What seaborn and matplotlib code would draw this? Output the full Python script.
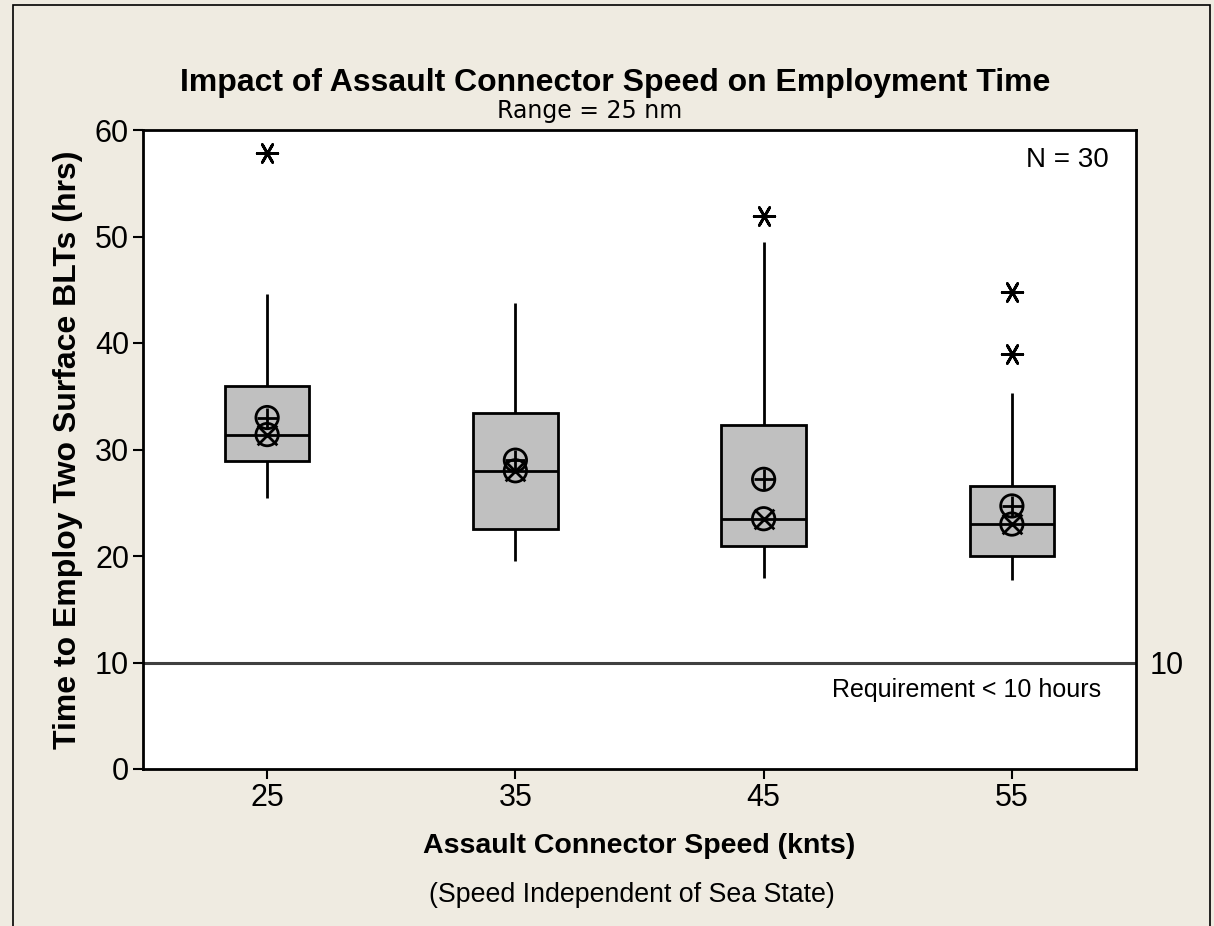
import numpy as np
import pandas as pd
import seaborn as sns
import matplotlib.pyplot as plt
from matplotlib.patches import Rectangle

# box statistics (hours)
speeds = [25, 35, 45, 55]
whisker_lo = [25.4, 19.5, 17.9, 17.7]
q1 = [28.9, 22.5, 20.9, 20.0]
median = [31.4, 28.0, 23.5, 23.0]
q3 = [36.0, 33.4, 32.3, 26.6]
whisker_hi = [44.6, 43.8, 49.5, 35.3]
mean = [33.0, 29.0, 27.2, 24.7]
outlier_speed = [25, 45, 55, 55]
outlier_hours = [57.8, 51.9, 44.8, 39.0]
requirement = 10

bg = '#EFEBE1'

sns.set_theme(style='white')
plt.rcParams['font.family'] = ['Liberation Sans', 'DejaVu Sans']
plt.rcParams['text.color'] = 'black'
plt.rcParams['axes.labelcolor'] = 'black'
plt.rcParams['xtick.color'] = 'black'
plt.rcParams['ytick.color'] = 'black'

# five points per speed -> quartiles and whisker ends come out exactly
rows = []
for i, s in enumerate(speeds):
    for v in [whisker_lo[i], q1[i], median[i], q3[i], whisker_hi[i]]:
        rows.append({'speed': s, 'hours': v})
df = pd.DataFrame(rows)
stats = pd.DataFrame({'speed': speeds, 'mean': mean, 'median': median})
outs = pd.DataFrame({'speed': outlier_speed, 'hours': outlier_hours})

fig = plt.figure(figsize=(12.14, 9.26), dpi=100, facecolor=bg)
ax = fig.add_axes([143/1214, 1 - 769/926, (1136-143)/1214, (769-130)/926])
ax.set_facecolor('white')

sns.boxplot(data=df, x='speed', y='hours', native_scale=True, width=0.34,
            whis=(0, 100), showfliers=False, showcaps=False, ax=ax,
            boxprops=dict(facecolor='#C0C0C0', edgecolor='black', linewidth=2),
            whiskerprops=dict(color='black', linewidth=2),
            medianprops=dict(color='black', linewidth=2))

# mean (circle plus) and median (circle cross) symbols
for col, inner in [('mean', '+'), ('median', 'x')]:
    sns.scatterplot(data=stats, x='speed', y=col, marker='o', s=260,
                    facecolor='none', edgecolor='black', linewidth=2, ax=ax, zorder=5)
    sns.scatterplot(data=stats, x='speed', y=col, marker=inner, s=200,
                    color='black', linewidth=2, ax=ax, zorder=5)

sns.scatterplot(data=outs, x='speed', y='hours', marker=(6, 2, 90), s=220,
                color='black', linewidth=2, ax=ax, zorder=5)

ax.axhline(requirement, color='#404040', linewidth=2.2, zorder=1)

ax.set_xlim(20, 60)
ax.set_ylim(0, 60)
ax.set_xticks(speeds)
ax.set_yticks([0, 10, 20, 30, 40, 50, 60])
ax.tick_params(axis='both', direction='out', length=7, width=1.5, color='black',
               labelsize=22, pad=3, bottom=True, left=True)
for sp in ax.spines.values():
    sp.set_color('black')
    sp.set_linewidth(2)

ax2 = ax.twinx()
ax2.set_ylim(0, 60)
ax2.set_yticks([requirement])
ax2.tick_params(axis='y', length=0, labelsize=22, pad=10)
ax2.spines[:].set_visible(False)

ax.set_xlabel('Assault Connector Speed (knts)', fontsize=20.5, fontweight='bold', va='center')
ax.xaxis.set_label_coords(0.5, -(846 - 769) / 639)
ax.set_ylabel('Time to Employ Two Surface BLTs (hrs)', fontsize=23, fontweight='bold', va='center')
ax.yaxis.set_label_coords(-(143 - 68) / 993, 0.5)

ax.text(58.9, 57.2, 'N = 30', ha='right', va='center', fontsize=20)
ax.text(58.6, 7.4, 'Requirement < 10 hours', ha='right', va='center', fontsize=18)

narrow = ['Liberation Sans Narrow', 'DejaVu Sans']
fig.text(615/1214, 1 - 83/926, 'Impact of Assault Connector Speed on Employment Time',
         ha='center', va='center', fontsize=23, fontweight='bold')
fig.text(590/1214, 1 - 111/926, 'Range = 25 nm', ha='center', va='center', fontsize=17, family=narrow)
fig.text(632/1214, 1 - 895/926, '(Speed Independent of Sea State)', ha='center', va='center', fontsize=19.3)

fig.patches.append(Rectangle((13/1214, -0.01), (1210-13)/1214, 1.01 - 5/926,
                             transform=fig.transFigure, fill=False,
                             edgecolor='black', linewidth=1.2))

fig.savefig('out.png', dpi=100, facecolor=bg)
